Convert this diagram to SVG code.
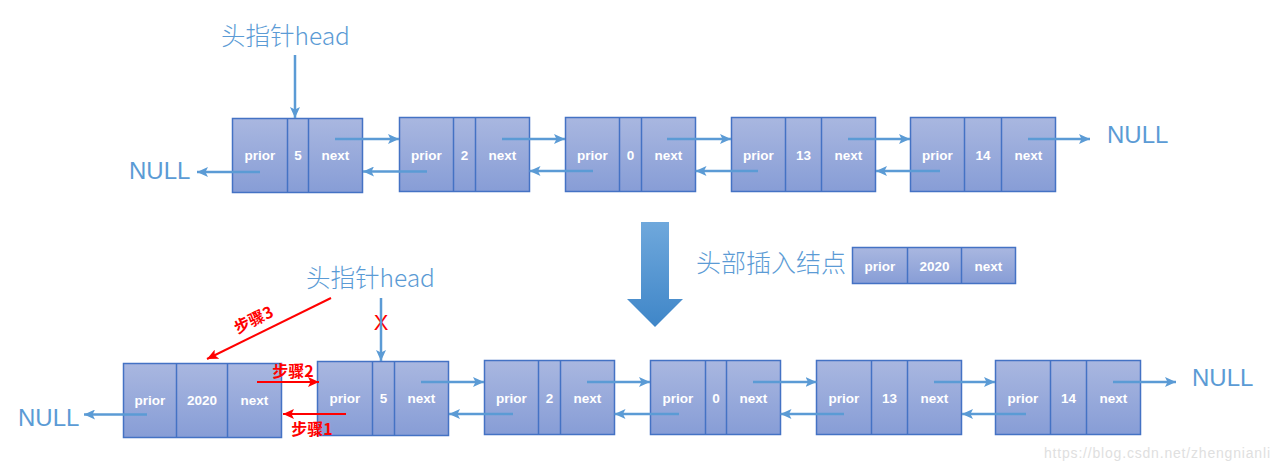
<svg xmlns="http://www.w3.org/2000/svg" width="1279" height="472" viewBox="0 0 1279 472">
<defs>
<linearGradient id="nodeFill" x1="0" y1="0" x2="0" y2="1">
<stop offset="0" stop-color="#a9b7e0"/>
<stop offset="1" stop-color="#879dd6"/>
</linearGradient>
<linearGradient id="bigArrow" x1="0" y1="0" x2="0" y2="1">
<stop offset="0" stop-color="#6fa8dc"/>
<stop offset="1" stop-color="#3f86c8"/>
</linearGradient>
<marker id="ah" markerUnits="userSpaceOnUse" markerWidth="12" markerHeight="10" refX="11" refY="5" orient="auto">
<path d="M0,0 L11,5 L0,10 L2.5,5 Z" fill="#5b9bd5"/>
</marker>
<marker id="ahr" markerUnits="userSpaceOnUse" markerWidth="12" markerHeight="10" refX="11" refY="5" orient="auto">
<path d="M0,0 L11,5 L0,10 L2.5,5 Z" fill="#ff0000"/>
</marker>
</defs>
<style>
.box{fill:url(#nodeFill);stroke:#4472c4;stroke-width:1.5}
.div{stroke:#4472c4;stroke-width:1.5}
.lbl{font-family:"Liberation Sans",Arial,sans-serif;font-weight:bold;font-size:13.5px;fill:#ffffff;text-anchor:middle}
.blue{font-family:"Noto Sans CJK SC","Liberation Sans",sans-serif;font-weight:300;fill:#5b9bd5}
.null{font-family:"Liberation Sans","Noto Sans CJK SC",sans-serif;font-size:24px;fill:#5b9bd5}
.ar{stroke:#5b9bd5;stroke-width:2.5;fill:none;marker-end:url(#ah)}
.arr{stroke:#ff0000;stroke-width:2;fill:none;marker-end:url(#ahr)}
.red{font-family:"Noto Sans CJK SC","Liberation Sans",sans-serif;font-weight:bold;font-size:16px;fill:#ff0000}
</style>

<!-- top row -->
<g id="head-top">
<text class="blue" x="221" y="45" font-size="24.5">头指针head</text>
</g>
<g id="null-top-left"><text class="null" x="129" y="179">NULL</text></g>
<g id="null-top-right"><text class="null" x="1107" y="143">NULL</text></g>

<g id="t1">
<rect class="box" x="232.5" y="118.5" width="130" height="74"/>
<line class="div" x1="287.5" y1="118.5" x2="287.5" y2="192.5"/>
<line class="div" x1="308.5" y1="118.5" x2="308.5" y2="192.5"/>
<text class="lbl" x="260" y="160">prior</text><text class="lbl" x="298" y="160">5</text><text class="lbl" x="335.5" y="160">next</text>
</g>
<g id="t2">
<rect class="box" x="399.5" y="117.5" width="130" height="74"/>
<line class="div" x1="453.5" y1="117.5" x2="453.5" y2="191.5"/>
<line class="div" x1="475.5" y1="117.5" x2="475.5" y2="191.5"/>
<text class="lbl" x="426.5" y="160">prior</text><text class="lbl" x="464.5" y="160">2</text><text class="lbl" x="502.5" y="160">next</text>
</g>
<g id="t3">
<rect class="box" x="565.5" y="117.5" width="130" height="74"/>
<line class="div" x1="619.5" y1="117.5" x2="619.5" y2="191.5"/>
<line class="div" x1="641.5" y1="117.5" x2="641.5" y2="191.5"/>
<text class="lbl" x="592.5" y="160">prior</text><text class="lbl" x="630.5" y="160">0</text><text class="lbl" x="668.5" y="160">next</text>
</g>
<g id="t4">
<rect class="box" x="731.5" y="117.5" width="144" height="74"/>
<line class="div" x1="785.5" y1="117.5" x2="785.5" y2="191.5"/>
<line class="div" x1="821.5" y1="117.5" x2="821.5" y2="191.5"/>
<text class="lbl" x="758.5" y="160">prior</text><text class="lbl" x="803.5" y="160">13</text><text class="lbl" x="848.5" y="160">next</text>
</g>
<g id="t5">
<rect class="box" x="910.5" y="117.5" width="145" height="74"/>
<line class="div" x1="964.5" y1="117.5" x2="964.5" y2="191.5"/>
<line class="div" x1="1001.5" y1="117.5" x2="1001.5" y2="191.5"/>
<text class="lbl" x="937.5" y="160">prior</text><text class="lbl" x="983" y="160">14</text><text class="lbl" x="1028.5" y="160">next</text>
</g>

<g id="big-arrow">
<path d="M641,222 L669,222 L669,299 L683,299 L655,327 L627,299 L641,299 Z" fill="url(#bigArrow)"/>
</g>
<g id="insert-label">
<text class="blue" x="696" y="272" font-size="25">头部插入结点</text>
</g>
<g id="newnode">
<rect class="box" x="852.5" y="247.5" width="163" height="36"/>
<line class="div" x1="907.5" y1="247.5" x2="907.5" y2="283.5"/>
<line class="div" x1="961.5" y1="247.5" x2="961.5" y2="283.5"/>
<text class="lbl" x="880" y="271">prior</text><text class="lbl" x="934.5" y="271">2020</text><text class="lbl" x="988.5" y="271">next</text>
</g>

<!-- bottom row -->
<g id="head-bottom">
<text class="blue" x="306" y="287" font-size="24.5">头指针head</text>
</g>
<g id="null-bottom-left"><text class="null" x="18" y="426">NULL</text></g>
<g id="null-bottom-right"><text class="null" x="1192" y="386">NULL</text></g>

<g id="b0">
<rect class="box" x="123.5" y="363.5" width="158" height="74"/>
<line class="div" x1="176.5" y1="363.5" x2="176.5" y2="437.5"/>
<line class="div" x1="227.5" y1="363.5" x2="227.5" y2="437.5"/>
<text class="lbl" x="150" y="405">prior</text><text class="lbl" x="202" y="405">2020</text><text class="lbl" x="254.5" y="405">next</text>
</g>
<g id="b1">
<rect class="box" x="317.5" y="361.5" width="131" height="74"/>
<line class="div" x1="372.5" y1="361.5" x2="372.5" y2="435.5"/>
<line class="div" x1="394.5" y1="361.5" x2="394.5" y2="435.5"/>
<text class="lbl" x="345" y="403">prior</text><text class="lbl" x="383.5" y="403">5</text><text class="lbl" x="421.5" y="403">next</text>
</g>
<g id="b2">
<rect class="box" x="484.5" y="360.5" width="130" height="74"/>
<line class="div" x1="538.5" y1="360.5" x2="538.5" y2="434.5"/>
<line class="div" x1="560.5" y1="360.5" x2="560.5" y2="434.5"/>
<text class="lbl" x="511.5" y="403">prior</text><text class="lbl" x="549.5" y="403">2</text><text class="lbl" x="587.5" y="403">next</text>
</g>
<g id="b3">
<rect class="box" x="650.5" y="360.5" width="130" height="74"/>
<line class="div" x1="705.5" y1="360.5" x2="705.5" y2="434.5"/>
<line class="div" x1="726.5" y1="360.5" x2="726.5" y2="434.5"/>
<text class="lbl" x="678" y="403">prior</text><text class="lbl" x="716" y="403">0</text><text class="lbl" x="753.5" y="403">next</text>
</g>
<g id="b4">
<rect class="box" x="816.5" y="360.5" width="145" height="74"/>
<line class="div" x1="871.5" y1="360.5" x2="871.5" y2="434.5"/>
<line class="div" x1="907.5" y1="360.5" x2="907.5" y2="434.5"/>
<text class="lbl" x="844" y="403">prior</text><text class="lbl" x="889.5" y="403">13</text><text class="lbl" x="934.5" y="403">next</text>
</g>
<g id="b5">
<rect class="box" x="995.5" y="360.5" width="145" height="74"/>
<line class="div" x1="1050.5" y1="360.5" x2="1050.5" y2="434.5"/>
<line class="div" x1="1086.5" y1="360.5" x2="1086.5" y2="434.5"/>
<text class="lbl" x="1023" y="403">prior</text><text class="lbl" x="1068.5" y="403">14</text><text class="lbl" x="1113.5" y="403">next</text>
</g>

<g id="red-labels">
<text class="red" x="293" y="377" text-anchor="middle">步骤2</text>
<text class="red" x="312" y="435" text-anchor="middle">步骤1</text>
<text class="red" x="0" y="0" text-anchor="middle" transform="translate(256,325) rotate(-26)">步骤3</text>
<text x="381" y="330" font-family="Liberation Sans,sans-serif" font-size="22" fill="#ff0000" text-anchor="middle">X</text>
</g>

<g id="connectors">
<line class="ar" x1="295" y1="55" x2="295" y2="118"/>
<line class="ar" x1="260" y1="172" x2="197" y2="172"/>
<line class="ar" x1="335" y1="139" x2="399" y2="139"/>
<line class="ar" x1="427" y1="171.5" x2="363" y2="171.5"/>
<line class="ar" x1="502" y1="139" x2="565" y2="139"/>
<line class="ar" x1="593" y1="171" x2="529.5" y2="171"/>
<line class="ar" x1="667" y1="139" x2="731" y2="139"/>
<line class="ar" x1="758" y1="171" x2="695.5" y2="171"/>
<line class="ar" x1="848" y1="139" x2="910" y2="139"/>
<line class="ar" x1="940" y1="171" x2="876" y2="171"/>
<line class="ar" x1="1028" y1="139" x2="1090" y2="139"/>

<line class="ar" x1="381" y1="298" x2="381" y2="361"/>
<line class="ar" x1="147" y1="414.5" x2="84" y2="414.5"/>
<line class="ar" x1="421" y1="382" x2="484" y2="382"/>
<line class="ar" x1="513" y1="414" x2="449" y2="414"/>
<line class="ar" x1="587" y1="382" x2="650" y2="382"/>
<line class="ar" x1="679" y1="414" x2="614.5" y2="414"/>
<line class="ar" x1="753" y1="382" x2="816.5" y2="382"/>
<line class="ar" x1="844" y1="414" x2="780.5" y2="414"/>
<line class="ar" x1="934" y1="382" x2="995" y2="382"/>
<line class="ar" x1="1026" y1="414" x2="962" y2="414"/>
<line class="ar" x1="1113" y1="382" x2="1176" y2="382"/>

<line class="arr" x1="331" y1="298" x2="207" y2="359"/>
<line class="arr" x1="257" y1="382" x2="319" y2="382"/>
<line class="arr" x1="346" y1="414" x2="283" y2="414"/>
</g>

<g id="watermark">
<text x="1044" y="458" font-family="Liberation Sans,sans-serif" font-size="14" fill="#e0e0e0" textLength="226">https://blog.csdn.net/zhengnianli</text>
</g>
</svg>
